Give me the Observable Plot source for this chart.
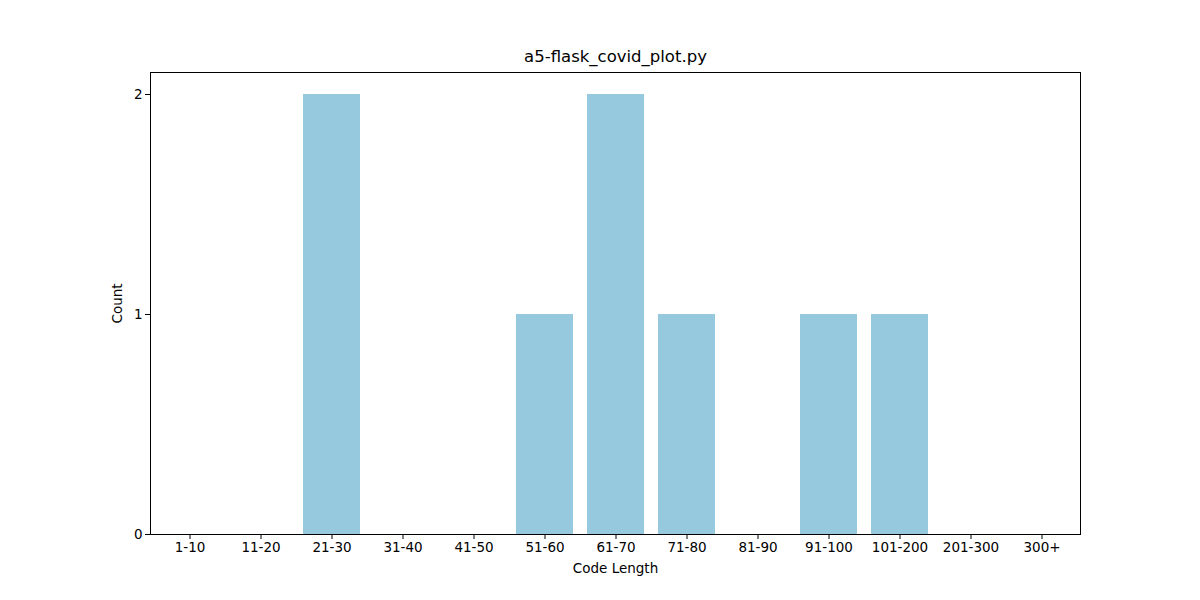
<!DOCTYPE html>
<html>
<head>
<meta charset="utf-8">
<script src="https://cdn.jsdelivr.net/npm/d3@7"></script>
<script src="https://cdn.jsdelivr.net/npm/@observablehq/plot@0.6"></script>
<style>
  body { margin: 0; background: white; }
</style>
</head>
<body>
<div id="chart"></div>
<script>
const titulo = "a5-flask_covid_plot.py"
const rangos = ["1-10", "11-20", "21-30", "31-40", "41-50", "51-60", "61-70", "71-80", "81-90", "91-100", "101-200", "201-300", "300+"]
const cantidades = [0, 0, 2, 0, 0, 1, 2, 1, 0, 1, 1, 0, 0]
const ticksY = [0, 1, 2]

const data = rangos.map((r, i) => ({rango: r, cantidad: cantidades[i]}))

const chart = Plot.plot({
  width: 1200,
  height: 600,
  marginLeft: 150,
  marginRight: 120,
  marginTop: 72,
  marginBottom: 66,
  style: {fontFamily: "DejaVu Sans, sans-serif", fontSize: "13.5px", color: "black", background: "white"},
  x: {domain: rangos, paddingInner: 0.2, paddingOuter: 0.1},
  y: {domain: [0, 2.1]},
  marks: [
    Plot.barY(data, {x: "rango", y: "cantidad", fill: "#96c9dd"}),
    Plot.frame({stroke: "black", strokeWidth: 1}),
    Plot.axisX({label: "Code Length", labelAnchor: "center", labelArrow: "none", labelOffset: 38, tickSize: 5, tickPadding: 3}),
    Plot.axisY({ticks: ticksY, tickFormat: "d", label: "Count", labelAnchor: "center", labelArrow: "none", labelOffset: 38, tickSize: 5, tickPadding: 3}),
    Plot.text([titulo], {frameAnchor: "top", dy: -22, fontSize: 16.5, fill: "black"})
  ]
})

d3.select('#chart').append(() => chart)
</script>
</body>
</html>
